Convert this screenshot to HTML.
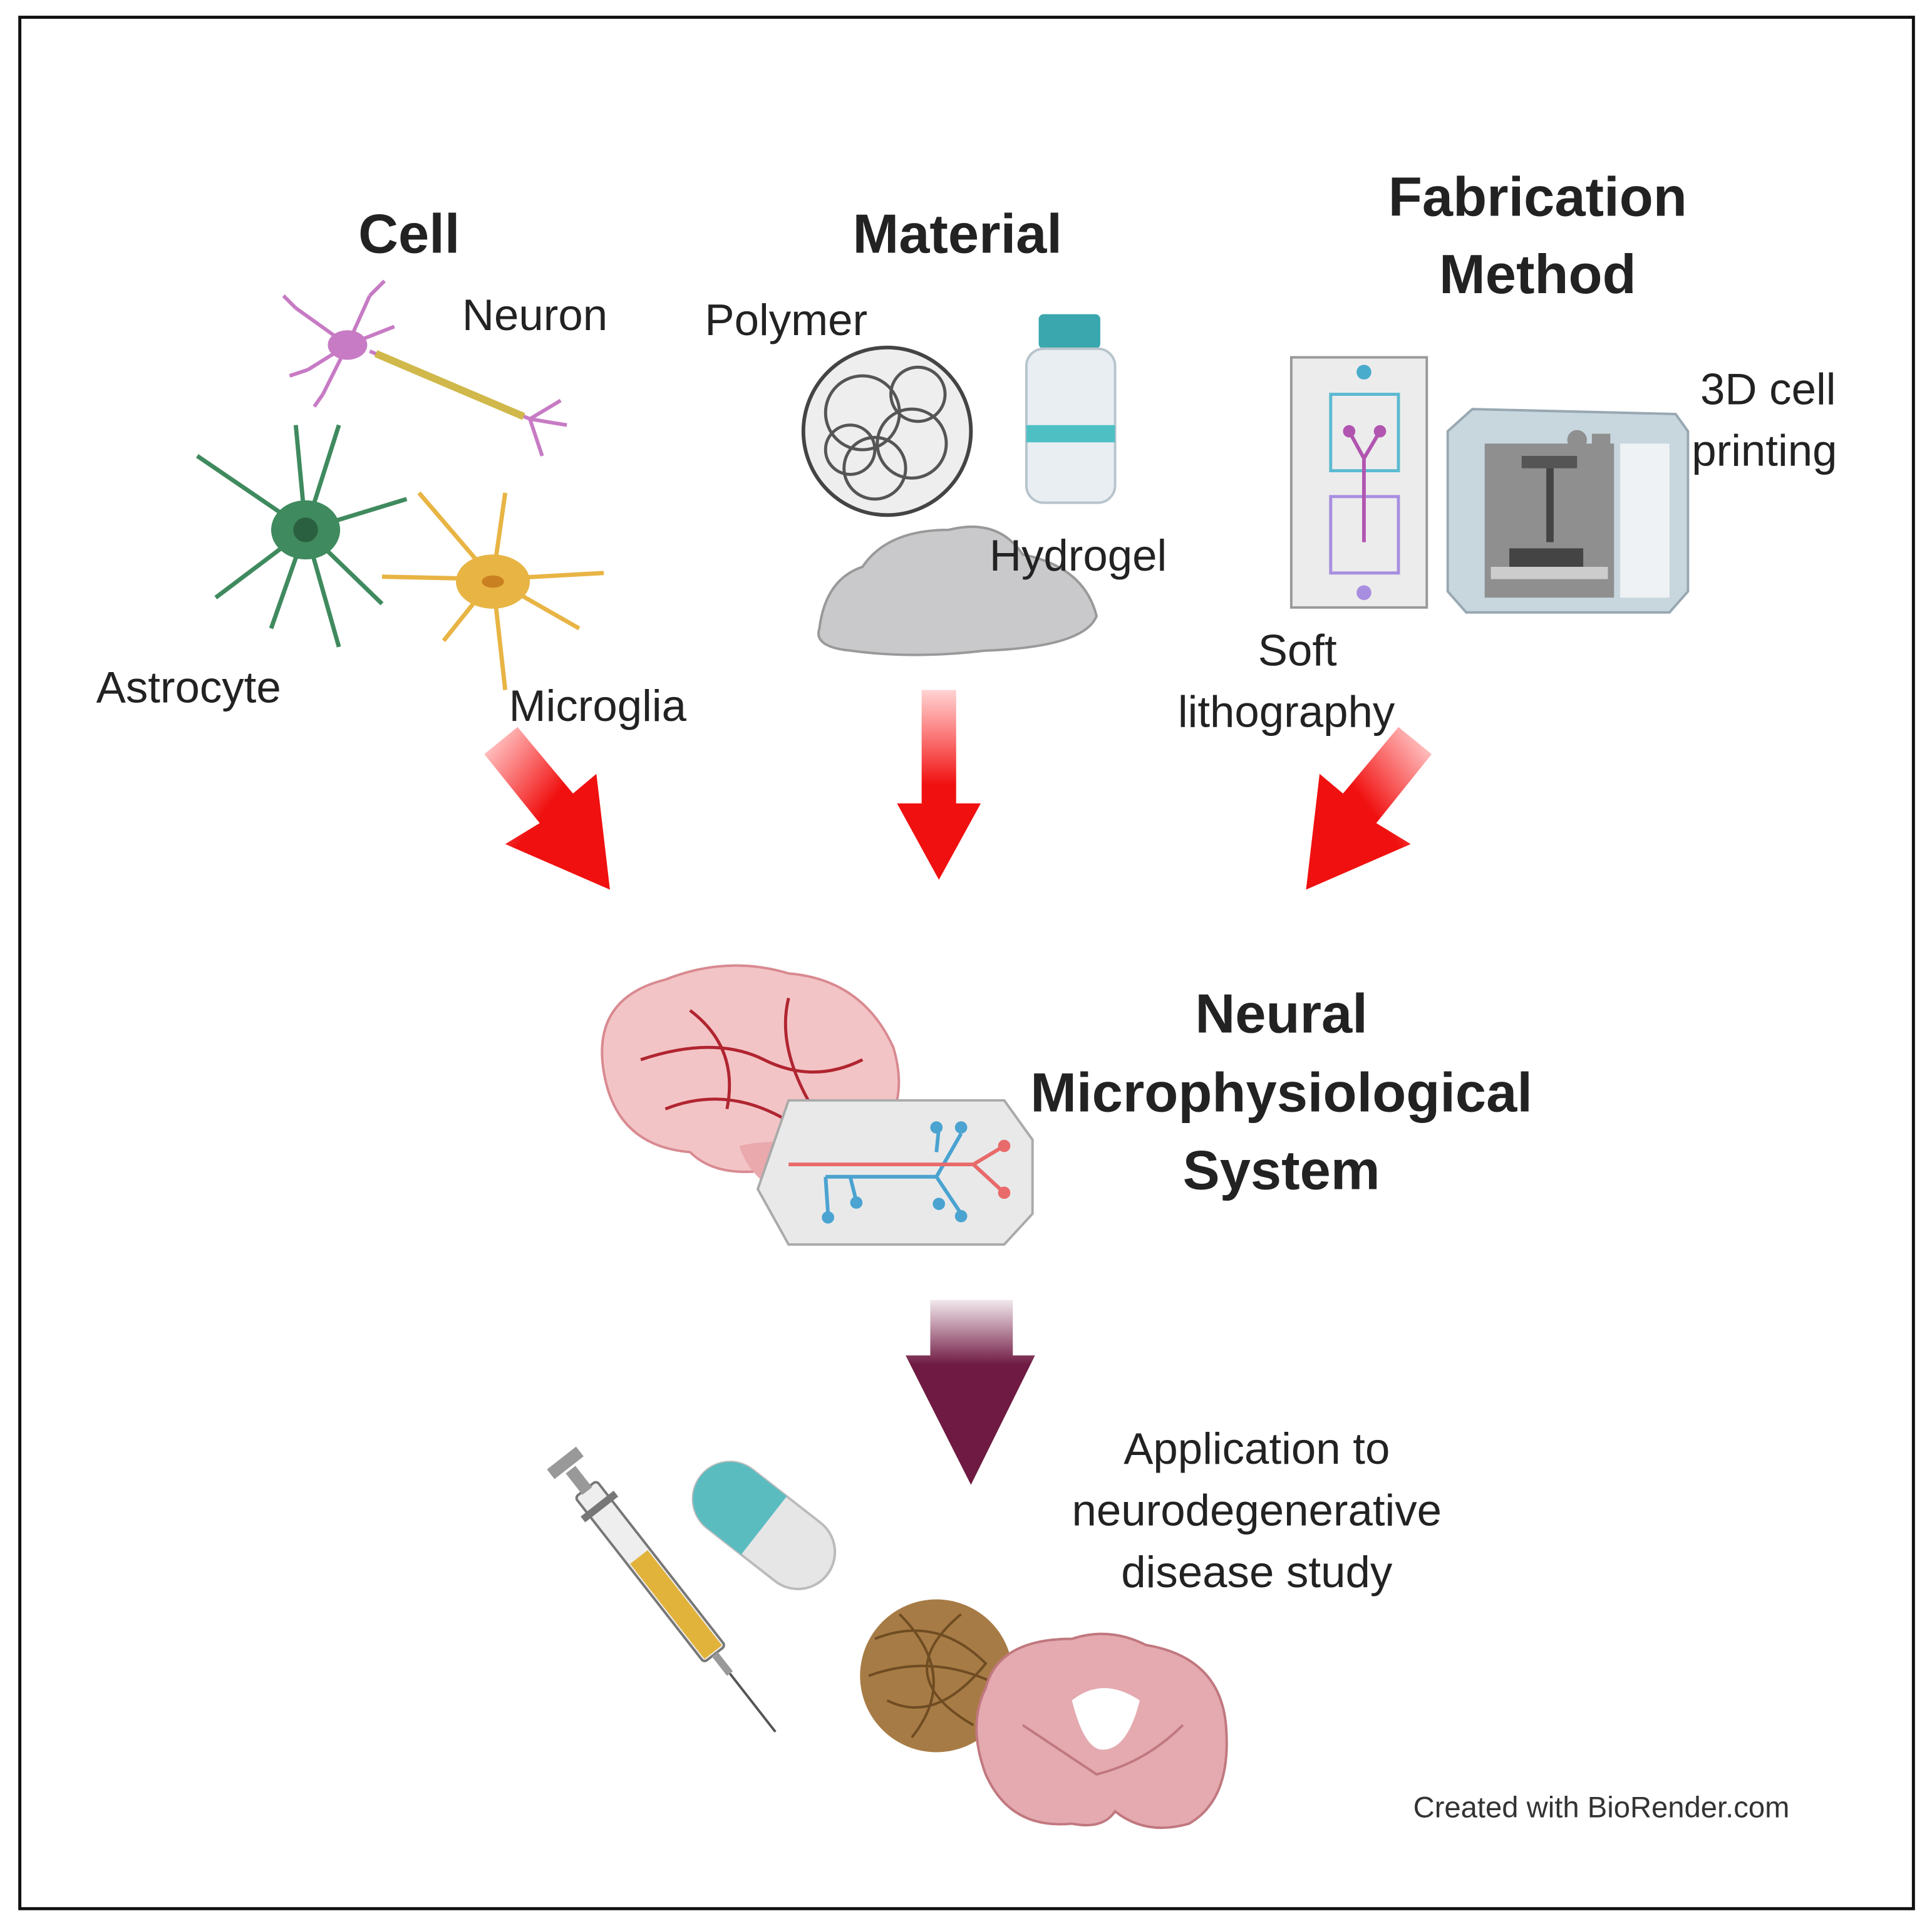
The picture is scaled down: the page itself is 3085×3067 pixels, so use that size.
<!DOCTYPE html>
<html><head><meta charset="utf-8"><style>
html,body{margin:0;padding:0;background:#fff;}
svg{display:block;}
text{font-family:"Liberation Sans",Arial,sans-serif;fill:#222;}
.b{font-weight:bold;font-size:45px;}
.n{font-size:36px;}
</style></head><body>
<svg width="3085" height="3067" viewBox="0 0 1568 1559" xmlns="http://www.w3.org/2000/svg">
<defs>
<linearGradient id="rl" x1="0" y1="0" x2="1" y2="1"><stop offset="0" stop-color="#ff2020" stop-opacity="0.15"/><stop offset="0.5" stop-color="#f01010"/></linearGradient>
<linearGradient id="rm" x1="0" y1="0" x2="0" y2="1"><stop offset="0" stop-color="#ff2020" stop-opacity="0.2"/><stop offset="0.5" stop-color="#f01010"/></linearGradient>
<linearGradient id="rr" x1="1" y1="0" x2="0" y2="1"><stop offset="0" stop-color="#ff2020" stop-opacity="0.15"/><stop offset="0.5" stop-color="#f01010"/></linearGradient>
<linearGradient id="dk" x1="0" y1="0" x2="0" y2="1"><stop offset="0" stop-color="#7a1d48" stop-opacity="0.1"/><stop offset="0.35" stop-color="#6e1a42"/><stop offset="1" stop-color="#6e1a42"/></linearGradient>
</defs>
<rect x="16" y="14" width="1537" height="1535" fill="#fff" stroke="#111" stroke-width="2.5"/>

<text class="b" x="332" y="205" text-anchor="middle">Cell</text>
<text class="b" x="777" y="205" text-anchor="middle">Material</text>
<text class="b" x="1248" y="175" text-anchor="middle">Fabrication</text>
<text class="b" x="1248" y="238" text-anchor="middle">Method</text>

<!-- neuron -->
<g stroke="#c77bc4" stroke-width="3" fill="none">
<path d="M282 280 L240 250 M282 280 L250 300 M282 280 L300 240 M282 280 L262 320 M282 280 L320 265 M240 250 L230 240 M300 240 L312 228 M262 320 L255 330 M250 300 L235 305"/>
<path d="M300 285 L430 340 M430 340 L455 325 M430 340 L440 370 M430 340 L460 345"/>
</g>
<path d="M305 287 L425 338" stroke="#d0b84a" stroke-width="6"/>
<ellipse cx="282" cy="280" rx="16" ry="12" fill="#c77bc4"/>
<!-- astrocyte -->
<g stroke="#3f8a5e" stroke-width="3.5" fill="none">
<path d="M248 430 L160 370 M248 430 L175 485 M248 430 L240 345 M248 430 L275 345 M248 430 L330 405 M248 430 L310 490 M248 430 L275 525 M248 430 L220 510"/>
</g>
<ellipse cx="248" cy="430" rx="28" ry="24" fill="#3f8a5e"/><circle cx="248" cy="430" r="10" fill="#2a6040"/>
<!-- microglia -->
<g stroke="#e8b444" stroke-width="3.5" fill="none">
<path d="M400 470 L340 400 M400 470 L310 468 M400 470 L410 400 M400 470 L490 465 M400 470 L470 510 M400 470 L410 560 M400 470 L360 520"/>
</g>
<ellipse cx="400" cy="472" rx="30" ry="22" fill="#e8b444"/><ellipse cx="400" cy="472" rx="9" ry="5" fill="#c98020"/>

<!-- polymer ball -->
<circle cx="720" cy="350" r="68" fill="#eee" stroke="#444" stroke-width="3"/>
<g stroke="#555" stroke-width="2.5" fill="none">
<circle cx="700" cy="335" r="30"/><circle cx="740" cy="360" r="28"/><circle cx="710" cy="380" r="25"/><circle cx="745" cy="320" r="22"/><circle cx="690" cy="365" r="20"/>
</g>
<!-- vial -->
<rect x="843" y="255" width="50" height="28" rx="4" fill="#3aa6ad"/>
<rect x="833" y="283" width="72" height="125" rx="14" fill="#e8eef2" stroke="#b8c4cc" stroke-width="2"/>
<rect x="833" y="345" width="72" height="14" fill="#4ec0c4"/>
<!-- hydrogel -->
<path d="M665 510 Q670 470 700 460 Q720 430 770 430 Q810 420 830 450 Q880 460 890 500 Q880 525 800 528 Q740 535 690 528 Q660 525 665 510Z" fill="#c9c9cb" stroke="#999" stroke-width="2"/>

<text class="n" x="375" y="268">Neuron</text>
<text class="n" x="572" y="272">Polymer</text>
<text class="n" x="803" y="463">Hydrogel</text>
<text class="n" x="1380" y="328">3D cell</text>
<text class="n" x="1373" y="378">printing</text>
<text class="n" x="1053" y="540" text-anchor="middle">Soft</text>
<text class="n" x="956" y="590">lithography</text>
<text class="n" x="78" y="570">Astrocyte</text>
<text class="n" x="413" y="585">Microglia</text>

<!-- soft litho chip -->
<rect x="1048" y="290" width="110" height="203" fill="#ececec" stroke="#999" stroke-width="2"/>
<rect x="1080" y="320" width="55" height="62" fill="none" stroke="#5bbad0" stroke-width="2.5"/>
<rect x="1080" y="403" width="55" height="62" fill="none" stroke="#a78ee0" stroke-width="2.5"/>
<circle cx="1107" cy="302" r="6" fill="#4aaccc"/><circle cx="1107" cy="481" r="6" fill="#a78ee0"/>
<path d="M1095 350 L1107 372 L1120 350 M1107 372 L1107 440" stroke="#b155b0" stroke-width="3" fill="none"/>
<circle cx="1095" cy="350" r="5" fill="#b155b0"/><circle cx="1120" cy="350" r="5" fill="#b155b0"/>
<!-- 3D printer -->
<path d="M1175 350 L1195 332 L1360 336 L1370 350 L1370 480 L1355 497 L1190 497 L1175 480Z" fill="#c8d6de" stroke="#98a8b2" stroke-width="2"/>
<rect x="1205" y="360" width="105" height="125" fill="#8f8f8f"/>
<rect x="1315" y="360" width="40" height="125" fill="#eef2f4"/>
<rect x="1235" y="370" width="45" height="10" fill="#555"/>
<rect x="1255" y="380" width="6" height="60" fill="#444"/>
<rect x="1225" y="445" width="60" height="15" fill="#444"/>
<rect x="1210" y="460" width="95" height="10" fill="#ccc"/>
<circle cx="1280" cy="357" r="8" fill="#8f8f8f"/><rect x="1292" y="352" width="15" height="10" fill="#8f8f8f"/>

<!-- red arrows -->
<path d="M393 612 L420 590 L465 644 L484 628 L495 722 L410 685 L438 668Z" fill="url(#rl)"/>
<path d="M748 560 L776 560 L776 652 L796 652 L762 714 L728 652 L748 652Z" fill="url(#rm)"/>
<path d="M1162 612 L1135 590 L1090 644 L1071 628 L1060 722 L1145 685 L1117 668Z" fill="url(#rr)"/>

<!-- brain -->
<path d="M490 870 Q480 810 540 795 Q590 775 640 790 Q700 795 725 850 Q740 900 705 930 Q670 955 620 950 Q580 955 560 935 Q500 930 490 870Z" fill="#f3c4c6" stroke="#d88a90" stroke-width="2"/>
<g stroke="#b02530" stroke-width="2.5" fill="none">
<path d="M520 860 Q580 840 620 860 Q660 880 700 860 M560 820 Q600 850 590 900 M640 810 Q630 850 660 900 M540 900 Q590 880 640 910"/>
</g>
<path d="M600 930 Q640 920 690 940 Q680 975 640 970 Q610 960 600 930Z" fill="#e9a9ad"/>
<!-- chip -->
<path d="M615 965 L640 893 L815 893 L838 925 L838 985 L815 1010 L640 1010Z" fill="#e9e9ea" stroke="#aaa" stroke-width="2"/>
<g stroke="#4aa3d0" stroke-width="3" fill="none">
<path d="M670 955 L760 955 M760 955 L780 920 M760 955 L780 985 M670 955 L672 985 M690 955 L695 975 M760 935 L762 915"/>
</g>
<g fill="#4aa3d0"><circle cx="780" cy="915" r="5"/><circle cx="760" cy="915" r="5"/><circle cx="780" cy="987" r="5"/><circle cx="672" cy="988" r="5"/><circle cx="695" cy="976" r="5"/><circle cx="762" cy="977" r="5"/></g>
<path d="M640 945 L790 945 L815 930 M790 945 L815 968" stroke="#e86a6a" stroke-width="3" fill="none"/>
<circle cx="815" cy="930" r="5" fill="#e86a6a"/><circle cx="815" cy="968" r="5" fill="#e86a6a"/>

<text class="b" x="1040" y="838" text-anchor="middle">Neural</text>
<text class="b" x="1040" y="902" text-anchor="middle">Microphysiological</text>
<text class="b" x="1040" y="965" text-anchor="middle">System</text>

<!-- dark arrow -->
<path d="M755 1055 L822 1055 L822 1100 L840 1100 L788 1205 L735 1100 L755 1100Z" fill="url(#dk)"/>

<text class="n" x="1020" y="1188" text-anchor="middle">Application to</text>
<text class="n" x="1020" y="1238" text-anchor="middle">neurodegenerative</text>
<text class="n" x="1020" y="1288" text-anchor="middle">disease study</text>

<!-- syringe -->
<g transform="rotate(52 530 1280)">
<rect x="440" y="1268" width="170" height="22" rx="3" fill="#eee" stroke="#777" stroke-width="2"/>
<rect x="510" y="1270" width="98" height="18" fill="#e2b33a"/>
<rect x="420" y="1274" width="22" height="10" fill="#999"/>
<rect x="408" y="1264" width="10" height="30" fill="#999"/>
<rect x="455" y="1262" width="6" height="34" fill="#777"/>
<rect x="610" y="1276" width="20" height="6" fill="#999"/>
<line x1="630" y1="1279" x2="690" y2="1279" stroke="#555" stroke-width="2"/>
</g>
<!-- pill -->
<g transform="rotate(38 620 1238)">
<rect x="555" y="1208" width="130" height="60" rx="30" fill="#e6e6e6" stroke="#bbb" stroke-width="2"/>
<path d="M585 1208 L620 1208 L620 1268 L585 1268 A30 30 0 0 1 585 1208Z" fill="#5bbcc0"/>
</g>
<!-- tangle -->
<ellipse cx="760" cy="1360" rx="62" ry="62" fill="#a77b45"/>
<g stroke="#6f4c22" stroke-width="2" fill="none">
<path d="M710 1330 Q760 1310 800 1350 Q760 1400 720 1380 M730 1310 Q780 1360 740 1410 M780 1310 Q720 1360 790 1400 M705 1360 Q760 1340 815 1370"/>
</g>
<!-- brain slice -->
<path d="M800 1370 Q810 1330 870 1330 Q900 1320 930 1335 Q990 1345 995 1400 Q1000 1460 965 1480 Q930 1490 905 1470 Q895 1485 870 1480 Q820 1485 800 1440 Q785 1400 800 1370Z" fill="#e4aab0" stroke="#c0787e" stroke-width="2"/>
<path d="M870 1380 Q895 1360 925 1380 Q915 1420 895 1420 Q880 1420 870 1380Z" fill="#fff"/>
<path d="M830 1400 Q860 1420 890 1440 Q930 1430 960 1400" stroke="#c0787e" stroke-width="2" fill="none"/>

<text x="1147" y="1475" style="font-size:24px;fill:#333">Created with BioRender.com</text>
</svg>
</body></html>
